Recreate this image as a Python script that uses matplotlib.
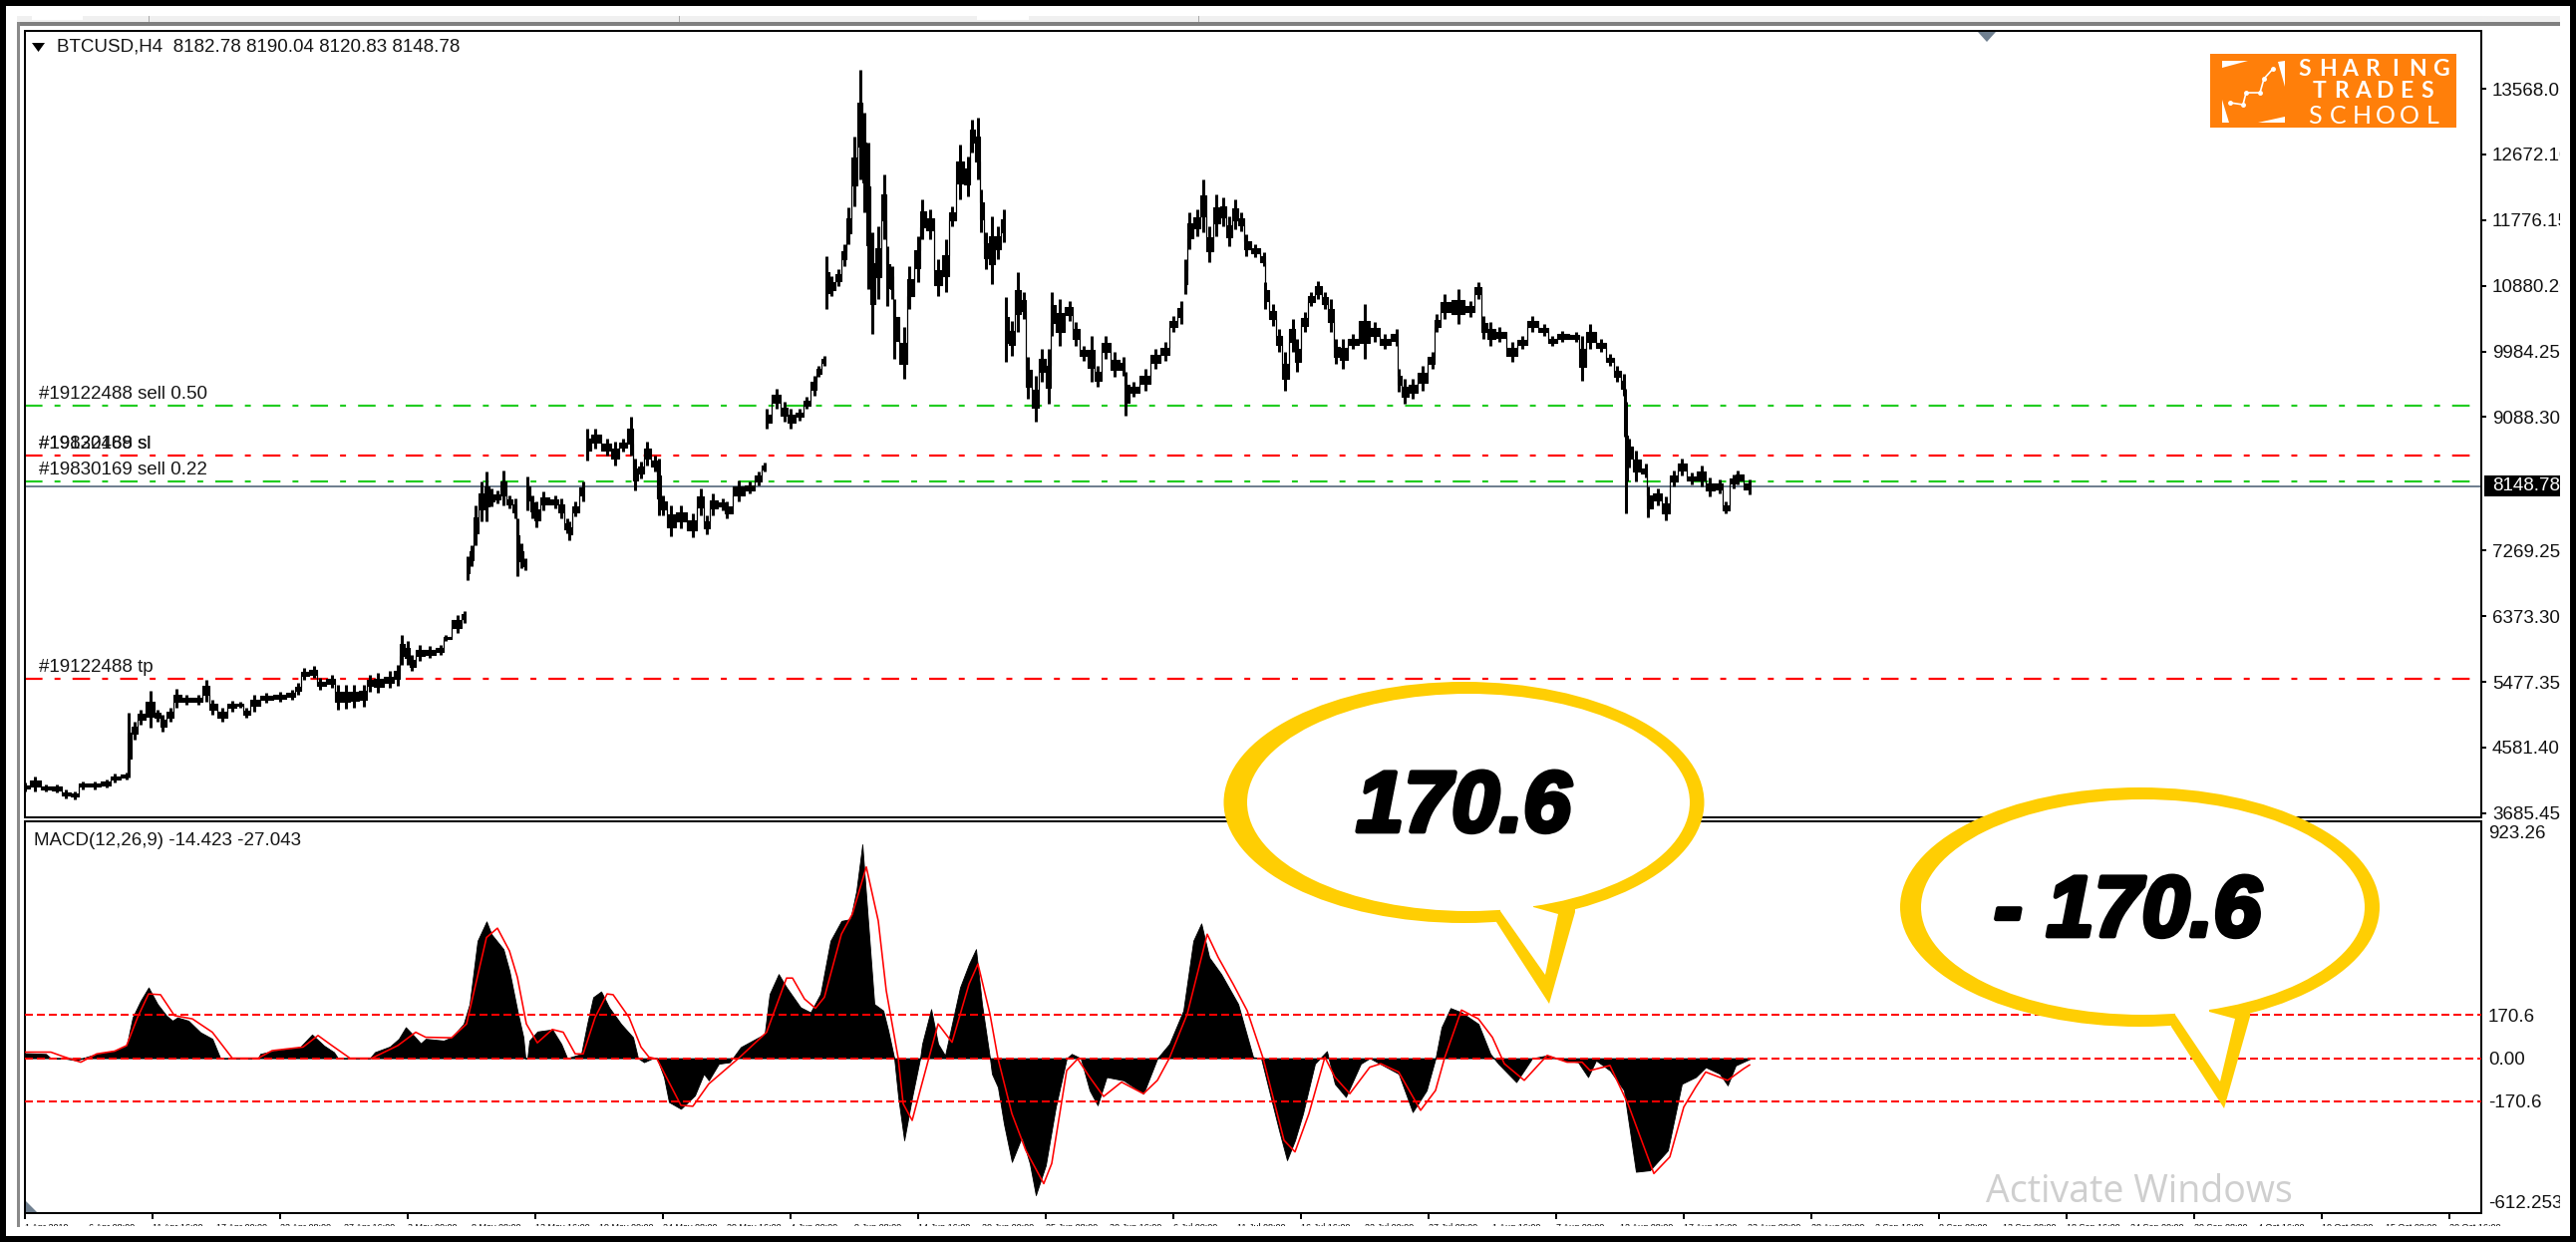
import numpy as np
import matplotlib
matplotlib.use('Agg')
import matplotlib.pyplot as plt
import matplotlib.patheffects as pe
from matplotlib.patches import Ellipse, Polygon, Rectangle

W, H = 2584, 1246
UI_FONT = 'Liberation Sans'

# candles: bar position, high, low
PRICE_BAR = [0, 5, 10.5, 16, 20.5, 25, 29, 35, 41, 45, 51, 52, 55, 58, 63, 66.5, 69, 73, 76, 81, 87, 91, 94, 99, 104, 108, 111, 115, 121, 128, 134, 137, 140, 145, 148, 154, 157, 161, 165, 170, 173, 177, 183, 187, 189, 192, 194, 198, 203, 208.5, 211, 217, 220.5,
             222, 224, 226, 229, 231.5, 234, 237, 240, 243, 246, 247, 249, 251,
             252, 254.5, 256.5, 260, 266, 269, 272, 273, 276, 280,
             282, 286, 292, 296, 300, 304, 306, 309, 312, 316, 318, 320, 324, 329, 335, 339, 342, 345, 350, 352, 358, 363.5, 368, 371,
             372, 377, 381, 384, 388.5, 392, 396, 398, 401,
             402, 404.5, 408, 411, 413, 416, 419, 421, 423, 425, 428, 431, 432.5, 435, 436, 441, 443.5, 448, 450, 454, 458, 462, 465, 469, 473, 475, 478, 479.5, 482, 485, 488, 491,
             492, 495, 498, 501, 503, 507, 510, 513.5, 515, 519, 524, 527, 531, 535, 538, 542, 546.5, 551, 552, 556, 562, 567, 572, 576, 580,
             582, 584, 588, 591, 594, 597.5, 601, 604, 607, 610, 612.5, 617, 621.5, 622, 626, 629, 632, 636, 638, 642, 645, 648.5, 652, 655, 657.5, 661, 666, 672, 677, 682, 688, 689, 692, 696, 701, 706, 708, 712, 719, 725, 729, 731.5, 735, 739.5, 746, 751, 756, 762, 766, 771, 778, 781, 785, 790.5, 795, 798.5, 802, 802.5, 803, 804.5, 808, 813, 814, 819, 823, 827, 831, 836, 841, 845, 850, 853, 857, 859, 865]
PRICE_HIGH = [4102, 4193, 4080, 4080, 4012, 3989, 4125, 4125, 4148, 4225, 4238, 5054, 4941, 5100, 5358, 5100, 5031, 5122, 5385, 5304, 5304, 5508, 5236, 5122, 5222, 5213, 5122, 5304, 5326, 5349, 5372, 5462, 5666, 5689, 5530, 5576, 5440, 5440, 5440, 5440, 5576, 5598, 5621, 5712, 6120, 6029, 5847, 5984, 5961, 5984, 6120, 6392, 6450,
              7185, 7343, 7887, 8205, 8341, 8114, 8091, 8354, 8023, 7978, 7706, 7366, 7162,
              8273, 8023, 7933, 8069, 8023, 7978, 7706, 7661, 7933, 8205,
              8930, 8930, 8794, 8749, 8794, 9089, 8522, 8477, 8749, 8568, 8522, 8023, 7887, 7887, 7774, 8114, 7751, 8046, 7978, 7933, 8227, 8205, 8341, 8463,
              9202, 9474, 9293, 9202, 9202, 9361, 9656, 9792, 9928,
              11287, 11016, 11106, 11446, 11945, 12919, 13826, 13237, 12829, 11605, 11695, 12398, 11424, 11152, 10698, 10313, 11152, 11559, 12058, 11922, 11242, 11514, 11967, 12806, 12647, 13146, 13169, 12194, 11605, 11831, 11695, 11922,
              10721, 10404, 11070, 10789, 9905, 9656, 10018, 10018, 10789, 10698, 10676, 10381, 10064, 10200, 9792, 10200, 9973, 9905, 9701, 9565, 9747, 10018, 10109, 10472, 10676,
              11242, 11877, 11922, 12330, 11695, 12126, 12081, 11831, 12058, 11877, 11582, 11446, 11333, 10925, 10630, 10290, 9973, 10426, 10154, 10517, 10789, 10948, 10789, 10698, 10154, 10154, 10222, 10630, 10381, 10222, 10290, 9747, 9610, 9610, 9792, 9973, 10494, 10766, 10834, 10676, 10925, 10472, 10381, 10313, 10109, 10200, 10472, 10358, 10200, 10268, 10245, 10200, 10358, 10154, 9950, 9792, 9678, 9480, 9293, 8801, 8637, 8450, 8146, 8122, 8005, 8356, 8520, 8333, 8427, 8263, 8239, 7935, 8310, 8356, 8239]
PRICE_LOW = [3989, 3989, 3980, 3966, 3889, 3876, 4012, 4012, 4034, 4102, 4148, 4170, 4692, 4896, 4850, 4941, 4805, 4941, 5122, 5168, 5168, 5213, 5031, 4941, 5077, 5122, 4995, 5077, 5190, 5213, 5236, 5304, 5508, 5530, 5372, 5394, 5100, 5113, 5122, 5145, 5349, 5326, 5394, 5430, 5712, 5712, 5621, 5757, 5802, 5847, 6029, 6142, 6278,
             6867, 7049, 7343, 7661, 7661, 7865, 7910, 7887, 7842, 7706, 6926, 7026, 7003,
             7819, 7706, 7579, 7819, 7842, 7706, 7502, 7411, 7729, 7933,
             8500, 8658, 8568, 8432, 8613, 8568, 8092, 8250, 8432, 8341, 7751, 7751, 7466, 7570, 7443, 7751, 7493, 7751, 7819, 7706, 7933, 8046, 8159, 8341,
             8930, 9202, 9021, 8930, 9043, 9202, 9384, 9633, 9792,
             10562, 10744, 10880, 11152, 11446, 11967, 12330, 11877, 10834, 10222, 10698, 11514, 10608, 10698, 9882, 9610, 10562, 10925, 11514, 11514, 10744, 10789, 11695, 12058, 12104, 12693, 12330, 11605, 11106, 10902, 11242, 11469,
             9837, 9928, 10245, 10426, 9338, 9021, 9565, 9270, 10200, 10064, 10404, 10064, 9860, 9565, 9497, 9882, 9633, 9656, 9112, 9361, 9452, 9747, 9860, 10245, 10358,
             10766, 11378, 11559, 11605, 11197, 11559, 11695, 11424, 11650, 11627, 11287, 11265, 11152, 10562, 10336, 9973, 9452, 9973, 9701, 10245, 10608, 10698, 10562, 10245, 9814, 9747, 10018, 9882, 10109, 10018, 10064, 9429, 9270, 9338, 9452, 9747, 10245, 10426, 10358, 10449, 10698, 10154, 10064, 10109, 9837, 10018, 10245, 10200, 10064, 10109, 10109, 9588, 10018, 9973, 9792, 9565, 9384, 8825, 7771, 8403, 8216, 8263, 7715, 7888, 7687, 8146, 8286, 8169, 8146, 8005, 8052, 7771, 8122, 8169, 8038]
# weekend style jumps where the candles do not connect
PRICE_GAPS_AFTER = [220.5, 251, 280, 371, 401, 491, 580]

HIST_BAR = [0, 10.5, 13, 19, 26, 30.5, 36, 45, 51, 54, 58, 62, 66.5, 71, 74, 76.5, 82, 88, 94, 98, 117, 118, 125, 138, 144, 150, 155, 157, 173, 175.5, 183, 187.5, 191, 195, 198.5, 201, 210, 214, 220, 223, 227, 231.5, 234, 240, 243, 247, 250, 251, 252, 253, 257, 264.5, 269, 272, 279, 282, 285, 289, 293, 299, 305, 307.5, 310.5, 315, 317, 320.5, 323, 329, 336, 340.5, 343, 348, 353.5, 359, 371, 373.5, 378, 382, 389, 394, 399, 404, 409.5, 414, 417, 420, 423.5, 426, 430.5, 433, 436, 438, 441, 445, 449, 450, 454.5, 458, 461.5, 469, 473.5, 477, 480, 484, 485, 488, 491, 495, 500, 504, 507, 512, 517, 522.5, 525, 529.5, 534, 538, 542.5, 551, 561, 568, 574, 581, 586, 590, 594, 600, 608.5, 616, 620, 624, 629, 633, 637, 641, 647, 653, 657, 662.5, 670, 674.5, 689, 696, 703, 707.5, 710.5, 715, 720.5, 729, 735, 739, 748, 756, 763.5, 772, 779, 784, 788, 795, 802, 808, 815, 824, 831, 838, 843, 850, 854, 858, 866]
HIST_VALUE = [20, 17, 0, 0, -9, 4, 17, 30, 50, 162, 228, 281, 215, 169, 149, 162, 149, 103, 77, 0, 0, 17, 30, 44, 94, 50, 24, 0, 0, 24, 46, 77, 123, 90, 59, 77, 70, 83, 136, 215, 466, 543, 492, 433, 347, 189, 83, 0, 0, 70, 106, 114, 57, 0, 17, 136, 242, 265, 202, 136, 83, 0, -16, 0, 0, -75, -174, -201, -148, -62, -88, -22, -16, 44, 96, 255, 334, 281, 202, 182, 255, 466, 545, 552, 664, 849, 479, 215, 189, 110, 0, -154, -326, -154, 0, 57, 195, 57, 11, 281, 374, 433, 215, 0, -62, -115, -260, -412, -313, -418, -544, -425, -194, 0, 17, 0, -128, -187, -75, -88, -141, 0, 57, 189, 466, 535, 400, 334, 215, 4, 0, -128, -286, -405, -326, -220, -22, 28, -102, -154, -22, 0, -62, -214, -128, 0, 123, 199, 182, 136, 17, -22, -95, 0, 11, -9, -16, -75, -9, -49, -128, -451, -445, -366, -102, -75, -36, -62, -108, -29, 0]

SIGNAL_BAR = [0, 13, 19, 28, 36, 45, 51, 56.5, 62, 68, 75, 84, 94, 104, 117, 124, 139.5, 147, 154, 163, 174, 187, 196, 201, 214, 221.5, 231.5, 237, 243, 247, 251.5, 257, 264.5, 270, 276, 280, 286, 292, 295, 303, 309, 313, 317, 329, 335, 343, 358, 372, 382, 385, 391, 396.5, 401, 409.5, 415, 422, 428, 432, 438, 440.5, 445, 449, 458, 465, 473.5, 478, 484, 488, 495, 502, 511, 515, 522.5, 528, 534, 541, 550, 561, 568, 574, 583, 593, 598.5, 606, 613, 621, 631.5, 637, 644, 652, 657, 664.5, 674.5, 680, 689, 700, 707.5, 712, 720.5, 729, 736, 742, 752, 763.5, 773.5, 781, 785, 795, 804, 817, 825, 832, 838, 843, 854, 862, 865]
SIGNAL_VALUE = [24, 24, 7, -16, 17, 28, 50, 162, 255, 252, 169, 156, 103, 0, 0, 30, 44, 90, 50, 0, 0, 50, 103, 83, 81, 136, 479, 516, 426, 321, 136, 61, 114, 103, 17, 17, 162, 255, 252, 162, 44, 4, -3, -187, -191, -102, 0, 103, 318, 318, 235, 198, 242, 492, 572, 759, 545, 268, 0, -181, -247, -128, 136, 63, 294, 374, 176, 0, -220, -366, -498, -418, -49, -3, -75, -152, -95, -141, -88, 0, 176, 492, 400, 294, 189, 0, -326, -372, -220, 4, -75, -141, -36, -22, -55, -207, -128, 0, 191, 156, 83, -22, -88, 11, -16, -16, -49, -29, -181, -458, -392, -194, -115, -55, -88, -42, -27]

PRICE_TICKS = [13568.05, 12672.10, 11776.15, 10880.20, 9984.25, 9088.30, 7269.25, 6373.30, 5477.35, 4581.40, 3685.45]
PRICE_TICK_LABELS = ['13568.05', '12672.10', '11776.15', '10880.20', '9984.25', '9088.30', '7269.25', '6373.30', '5477.35', '4581.40', '3685.45']
MACD_TICKS = [923.26, 170.6, 0.0, -170.6, -612.253]
MACD_TICK_LABELS = ['923.26', '170.6', '0.00', '-170.6', '-612.253']
MACD_LEVELS = [170.6, 0.0, -170.6]

ORDER_GREEN = [9244, 8211]
ORDER_RED = [8564, 5524]
LAST_PRICE = 8148.78

# x labels, only the tops of them survive in the screenshot
DATE_LABELS = ['1 Apr 2019', '6 Apr 08:00', '11 Apr 16:00', '17 Apr 00:00', '22 Apr 08:00', '27 Apr 16:00', '3 May 00:00', '8 May 08:00', '13 May 16:00', '19 May 00:00',
               '24 May 08:00', '29 May 16:00', '4 Jun 00:00', '9 Jun 08:00', '14 Jun 16:00', '20 Jun 00:00', '25 Jun 08:00', '30 Jun 16:00', '6 Jul 00:00', '11 Jul 08:00',
               '16 Jul 16:00', '22 Jul 00:00', '27 Jul 08:00', '1 Aug 16:00', '7 Aug 00:00', '12 Aug 08:00', '17 Aug 16:00', '23 Aug 00:00', '28 Aug 08:00', '2 Sep 16:00',
               '8 Sep 00:00', '13 Sep 08:00', '18 Sep 16:00', '24 Sep 00:00', '29 Sep 08:00', '4 Oct 16:00', '10 Oct 00:00', '15 Oct 08:00', '20 Oct 16:00']

BARS_SHOWN = 1232
GOLD = '#FFCE03'
SLATE = '#708090'
GREEN = '#22CC22'
RED = '#FF0000'
PX = 72 / 100  # points per pixel at dpi 100


def box(x0, y0, x1, y1):
    # pixel box from the top left of the image to figure fractions
    return [x0 / W, 1 - y1 / H, (x1 - x0) / W, (y1 - y0) / H]


def draw_price(ax):
    bars = np.array(PRICE_BAR, dtype=float)
    highs = np.array(PRICE_HIGH, dtype=float)
    lows = np.array(PRICE_LOW, dtype=float)
    # wicks carry the full range, the stepped body only the middle of it
    spread = highs - lows
    body_top = highs - 0.3 * spread
    body_bot = lows + 0.3 * spread
    cuts = [np.searchsorted(bars, g, side='right') for g in PRICE_GAPS_AFTER]
    for seg_b, seg_h, seg_l in zip(np.split(bars, cuts), np.split(body_top, cuts), np.split(body_bot, cuts)):
        ax.fill_between(seg_b, seg_l, seg_h, step='mid', color='black', lw=0.8, zorder=3)
    ax.vlines(bars, lows, highs, color='black', lw=3 * PX, zorder=3)


def draw_callout(ov, outer, inner, tail_out, tail_in, label, label_xy):
    ov.add_patch(Polygon(tail_out, closed=True, fc=GOLD, ec='none', zorder=2))
    ov.add_patch(Ellipse(outer[:2], outer[2], outer[3], fc=GOLD, ec='none', zorder=2))
    ov.add_patch(Ellipse(inner[:2], inner[2], inner[3], fc='white', ec='none', zorder=3))
    ov.add_patch(Polygon(tail_in, closed=True, fc='white', ec='none', zorder=3))
    ov.text(*label_xy, label, family=UI_FONT, style='italic', weight='bold', fontsize=62, ha='center', va='center', color='black', zorder=4,
            path_effects=[pe.withStroke(linewidth=3.4, foreground='black')])


def draw_logo(ov):
    ov.add_patch(Rectangle((2217, 54), 247, 74, fc='#FF7F0A', ec='none', zorder=2))
    for tri in ([(2229, 61), (2255, 61), (2229, 68)], [(2285, 62), (2292, 61), (2292, 87)],
                [(2229, 100), (2236, 123), (2229, 123)], [(2265, 123), (2292, 117), (2292, 123)]):
        ov.add_patch(Polygon(tri, closed=True, fc='white', ec='none', zorder=3))
    ov.plot([2237, 2250, 2253, 2267, 2271, 2280], [103, 105, 93, 93, 79, 69], color='white', lw=1.2, marker='o', ms=2.5, zorder=3)
    words = [('SHARING', 2312, 2448, 69, 'bold', 16.5), ('TRADES', 2327, 2435, 92, 'bold', 16.5), ('SCHOOL', 2322, 2440, 116, 'normal', 18)]
    for word, x0, x1, y, weight, size in words:
        for x, ch in zip(np.linspace(x0, x1, len(word)), word):
            ov.text(x, y, ch, family='Lato', weight=weight, fontsize=size, color='white', ha='center', va='center', zorder=4)


def main():
    fig = plt.figure(figsize=(W / 100, H / 100), dpi=100, facecolor='white')
    main_ax = fig.add_axes(box(25, 31, 2489, 820), zorder=1)
    macd_ax = fig.add_axes(box(25, 824, 2489, 1217), zorder=1)

    main_ax.set_xlim(0, BARS_SHOWN)
    main_ax.set_ylim(3629, 14357)
    macd_ax.set_xlim(0, BARS_SHOWN)
    macd_ax.set_ylim(-615, 940)

    for ax in (main_ax, macd_ax):
        for spine in ax.spines.values():
            spine.set_linewidth(2 * PX)

    dashdot = (0, (8, 5.5, 2.7, 5.5))
    for level in ORDER_GREEN:
        main_ax.axhline(level, color=GREEN, lw=2.2 * PX, ls=dashdot, zorder=1)
    for level in ORDER_RED:
        main_ax.axhline(level, color=RED, lw=2.2 * PX, ls=dashdot, zorder=1)
    main_ax.axhline(LAST_PRICE, color=SLATE, lw=2 * PX, zorder=2)
    draw_price(main_ax)

    main_ax.set_xticks([])
    main_ax.yaxis.tick_right()
    main_ax.set_yticks(PRICE_TICKS, PRICE_TICK_LABELS, family=UI_FONT, fontsize=13.5, color='#111111')
    main_ax.tick_params(axis='y', length=5 * PX, width=2 * PX, pad=6 * PX)

    macd_ax.fill_between(HIST_BAR, 0, HIST_VALUE, color='black', lw=0.6, zorder=2)
    macd_ax.plot(SIGNAL_BAR, SIGNAL_VALUE, color=RED, lw=1.6 * PX, zorder=4)
    for level in MACD_LEVELS:
        macd_ax.axhline(level, color=RED, lw=2 * PX, ls=(0, (4, 2)), zorder=3)

    macd_ax.yaxis.tick_right()
    macd_ax.set_yticks(MACD_TICKS, MACD_TICK_LABELS, family=UI_FONT, fontsize=13.5, color='#111111')
    macd_ax.tick_params(axis='y', length=0, pad=7 * PX)
    labels = macd_ax.get_yticklabels()
    labels[0].set_va('top')
    labels[-1].set_va('bottom')

    # a date every 32 bars, a tick mark on every second one
    date_pos = np.arange(len(DATE_LABELS)) * 32
    macd_ax.set_xticks(date_pos[::2], DATE_LABELS[::2], family=UI_FONT, fontsize=6.5, ha='left')
    macd_ax.set_xticks(date_pos[1::2], DATE_LABELS[1::2], minor=True, family=UI_FONT, fontsize=6.5, ha='left')
    macd_ax.tick_params(axis='x', which='major', length=6 * PX, width=2 * PX, pad=4.5 * PX)
    macd_ax.tick_params(axis='x', which='minor', length=0, pad=10.5 * PX)

    # screenshot chrome, callouts and captions in image pixels
    ov = fig.add_axes([0, 0, 1, 1], zorder=5)
    ov.set_xlim(0, W)
    ov.set_ylim(H, 0)
    ov.axis('off')

    for rect, color in [((20, 1230, 2558, 11), 'white'), ((2568, 26, 10, 1205), 'white'), ((17, 16, 2551, 6), '#F0F0F0'), ((17, 22, 2551, 4), '#7F7F7F'), ((17, 22, 3, 1209), '#8A8A8A'),
                        ((32, 16, 51, 4), 'white'), ((980, 16, 52, 4), 'white'), ((149, 16, 1, 6), '#AAAAAA'), ((681, 16, 1, 6), '#AAAAAA'), ((1202, 16, 1, 6), '#AAAAAA')]:
        ov.add_patch(Rectangle(rect[:2], rect[2], rect[3], fc=color, ec='none', zorder=1))
    for rect in [(0, 0, W, 6), (0, 1240, W, 6), (0, 0, 6, H), (2578, 0, 6, H)]:
        ov.add_patch(Rectangle(rect[:2], rect[2], rect[3], fc='black', ec='none', zorder=6))

    ov.add_patch(Polygon([(1984, 32), (2002, 32), (1993, 42)], closed=True, fc=SLATE, ec='none', zorder=2))
    ov.add_patch(Polygon([(26, 1205), (26, 1216), (37, 1216)], closed=True, fc=SLATE, ec='none', zorder=2))
    ov.add_patch(Polygon([(32, 43), (45, 43), (38.5, 52)], closed=True, fc='black', ec='none', zorder=2))

    ov.add_patch(Rectangle((2492, 477), 76, 21, fc='black', ec='none', zorder=2))
    ov.text(2500, 488, '8148.78', family=UI_FONT, fontsize=13.5, color='white', va='center', ha='left', zorder=3)

    captions = [('BTCUSD,H4  8182.78 8190.04 8120.83 8148.78', 57, 47), ('#19122488 sell 0.50', 39, 395), ('#19830169 sl', 39, 445), ('#19122488 sl', 39, 445),
                ('#19830169 sell 0.22', 39, 471), ('#19122488 tp', 39, 670), ('MACD(12,26,9) -14.423 -27.043', 34, 843)]
    for text, x, y in captions:
        ov.text(x, y, text, family=UI_FONT, fontsize=13.5, color='#151515', ha='left', va='center', zorder=2)

    draw_logo(ov)

    draw_callout(ov, (1468.5, 805, 482, 242), (1473, 805, 444, 218),
                 [(1501, 900), (1501, 925), (1554, 1007), (1580, 915), (1580, 890)],
                 [(1505, 900), (1505, 914), (1550, 978), (1563, 917), (1538, 910), (1538, 900)],
                 '170.6', (1468, 812))
    draw_callout(ov, (2146.5, 910, 481, 240), (2149.5, 910, 445, 216),
                 [(2178, 1000), (2178, 1030), (2231, 1112), (2257, 1020), (2257, 995)],
                 [(2182, 1005), (2182, 1018), (2227, 1085), (2242, 1022), (2216, 1015), (2216, 1005)],
                 '- 170.6', (2134, 917))

    ov.text(2146, 1196, 'Activate Windows', family='Open Sans', fontsize=27, color='#CFCFCF', ha='center', va='center', zorder=5)

    fig.savefig('out.png', dpi=100)


if __name__ == '__main__':
    main()
